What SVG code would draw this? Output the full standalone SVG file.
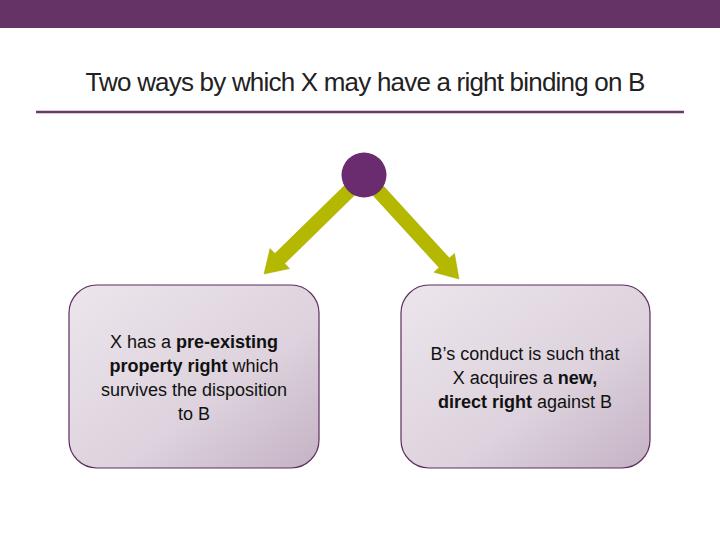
<svg xmlns="http://www.w3.org/2000/svg" width="720" height="540" viewBox="0 0 720 540">
<defs>
<linearGradient id="bg" x1="0" y1="0" x2="1" y2="1"><stop offset="0" stop-color="#ece6ec"/><stop offset="0.6" stop-color="#ddd2dd"/><stop offset="1" stop-color="#c4b2c4"/></linearGradient>
<style>
.box{fill:url(#bg);stroke:#5e2c5e;stroke-width:1.2}
.t{font-family:"Liberation Sans",Arial,sans-serif;font-size:18px;fill:#111;text-anchor:middle}
.arr{fill:#b5b800;stroke:#a8aa00;stroke-width:0.5}
</style>
</defs>
<rect width="720" height="540" fill="#fff"/>
<rect width="720" height="28" fill="#663366"/>
<text x="365" y="91" font-family="Liberation Sans,Arial,sans-serif" font-size="26" text-anchor="middle" fill="#222" letter-spacing="-0.8">Two ways by which X may have a right binding on B</text>
<line x1="36" y1="112" x2="684" y2="112" stroke="#6b3a6b" stroke-width="2.5"/>
<g id="connectors">
<polygon class="arr" points="359.9,190 284.7,263.6 289.6,268.6 264,274 270,248.6 274.9,253.6 350.1,180"/>
<polygon class="arr" points="367.8,189.7 439,267.5 433.9,272.3 459,279 454.5,253.4 449.4,258.1 378.2,180.3"/>
</g>
<g id="hub"><circle cx="364" cy="175" r="22.5" fill="#6a2c6e"/></g>
<g id="left">
<rect class="box" x="69" y="285" width="250" height="183" rx="28"/>
<text class="t" x="194" y="348">X has a <tspan font-weight="bold">pre-existing</tspan></text>
<text class="t" x="194" y="372"><tspan font-weight="bold">property right</tspan> which</text>
<text class="t" x="194" y="396">survives the disposition</text>
<text class="t" x="194" y="420">to B</text>
</g>
<g id="right">
<rect class="box" x="401" y="285" width="249" height="183" rx="28"/>
<text class="t" x="525" y="360">B’s conduct is such that</text>
<text class="t" x="525" y="384">X acquires a <tspan font-weight="bold">new,</tspan></text>
<text class="t" x="525" y="408"><tspan font-weight="bold">direct right</tspan> against B</text>
</g>
</svg>
